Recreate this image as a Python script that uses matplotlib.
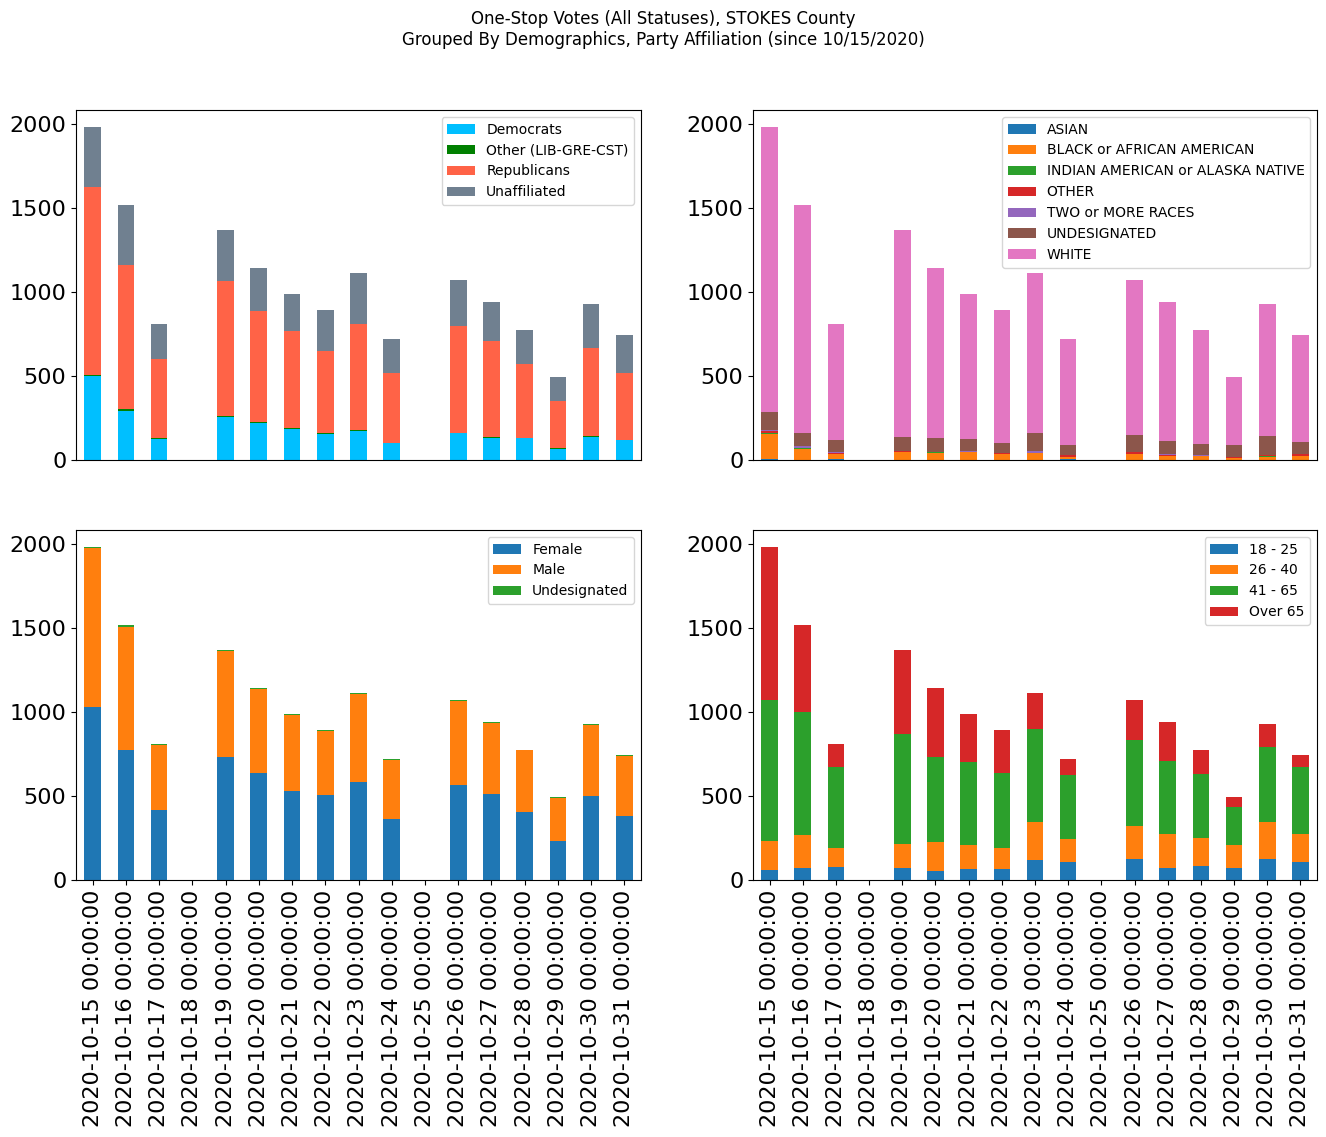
import matplotlib
matplotlib.use("Agg")
import matplotlib.pyplot as plt
import numpy as np

dates = ["2020-10-15", "2020-10-16", "2020-10-17", "2020-10-18", "2020-10-19",
         "2020-10-20", "2020-10-21", "2020-10-22", "2020-10-23", "2020-10-24",
         "2020-10-25", "2020-10-26", "2020-10-27", "2020-10-28", "2020-10-29",
         "2020-10-30", "2020-10-31"]
tick_labels = [d + " 00:00:00" for d in dates]

# Party affiliation
democrats    = [502, 292, 127, 0, 258, 222, 186, 157, 173, 101, 0, 161, 133, 133, 67, 139, 121]
other_party  = [5, 10, 4, 0, 5, 4, 4, 4, 5, 0, 0, 0, 4, 0, 4, 4, 0]
republicans  = [1118, 859, 470, 0, 802, 661, 578, 488, 631, 417, 0, 637, 571, 438, 280, 524, 397]
unaffiliated = [357, 357, 208, 0, 304, 256, 220, 244, 304, 202, 0, 273, 232, 203, 143, 261, 226]

# Race
asian        = [8, 0, 8, 0, 0, 0, 0, 0, 0, 8, 0, 0, 0, 0, 0, 0, 0]
black        = [147, 67, 28, 0, 48, 42, 48, 36, 42, 10, 0, 36, 24, 24, 12, 18, 24]
indian       = [6, 6, 0, 0, 0, 6, 0, 0, 0, 0, 0, 0, 0, 0, 0, 6, 0]
other_race   = [12, 0, 6, 0, 8, 0, 0, 6, 0, 12, 0, 12, 6, 0, 6, 6, 12]
two_more     = [6, 10, 6, 0, 0, 0, 6, 0, 12, 0, 0, 0, 6, 6, 0, 0, 0]
undesig_race = [107, 78, 71, 0, 81, 83, 71, 59, 107, 59, 0, 101, 77, 65, 71, 113, 71]
white        = [1696, 1357, 690, 0, 1232, 1012, 863, 792, 952, 631, 0, 922, 827, 679, 405, 785, 637]

# Gender
female       = [1030, 774, 417, 0, 732, 637, 530, 506, 583, 363, 0, 565, 512, 405, 232, 500, 381]
male         = [946, 732, 387, 0, 631, 500, 452, 381, 524, 351, 0, 500, 422, 369, 258, 422, 357]
undesig_sex  = [6, 12, 5, 0, 6, 6, 6, 6, 6, 6, 0, 6, 6, 0, 4, 6, 6]

# Age
age_18_25    = [60, 71, 77, 0, 71, 54, 65, 65, 119, 107, 0, 125, 71, 83, 71, 125, 107]
age_26_40    = [172, 197, 113, 0, 143, 172, 143, 125, 226, 137, 0, 196, 203, 167, 137, 220, 167]
age_41_65    = [839, 732, 483, 0, 655, 506, 494, 447, 554, 381, 0, 512, 434, 381, 226, 447, 399]
age_over_65  = [911, 518, 136, 0, 500, 411, 286, 256, 214, 95, 0, 238, 232, 143, 60, 136, 71]

party = [("Democrats", democrats, "#00BFFF"),
         ("Other (LIB-GRE-CST)", other_party, "#008000"),
         ("Republicans", republicans, "#FF6347"),
         ("Unaffiliated", unaffiliated, "#708090")]
tab = plt.get_cmap("tab10").colors
race = [("ASIAN", asian), ("BLACK or AFRICAN AMERICAN", black),
        ("INDIAN AMERICAN or ALASKA NATIVE", indian), ("OTHER", other_race),
        ("TWO or MORE RACES", two_more), ("UNDESIGNATED", undesig_race),
        ("WHITE", white)]
gender = [("Female", female), ("Male", male), ("Undesignated", undesig_sex)]
age = [("18 - 25", age_18_25), ("26 - 40", age_26_40), ("41 - 65", age_41_65),
       ("Over 65", age_over_65)]

fig = plt.figure(figsize=(13.26, 11.37), dpi=100)
W, H = 1326, 1137
def pos(x0, x1, y0, y1):
    return [x0 / W, 1 - y1 / H, (x1 - x0) / W, (y1 - y0) / H]

ax_tl = fig.add_axes(pos(76, 641, 110, 460))
ax_tr = fig.add_axes(pos(753, 1317, 110, 460))
ax_bl = fig.add_axes(pos(76, 641, 530, 880))
ax_br = fig.add_axes(pos(753, 1317, 530, 880))

x = np.arange(len(dates))

def stacked(ax, series, colors):
    bottom = np.zeros(len(x))
    for (name, vals), c in zip(series, colors):
        v = np.array(vals, dtype=float)
        ax.bar(x, v, 0.5, bottom=bottom, color=c, label=name)
        bottom += v
    ax.set_xlim(-0.5, len(x) - 0.5)
    ax.set_ylim(0, bottom.max() * 1.05)
    ax.set_yticks([0, 500, 1000, 1500, 2000])
    ax.tick_params(axis="y", labelsize=16)
    ax.legend(loc="upper right", fontsize=10)

stacked(ax_tl, [(n, v) for n, v, c in party], [c for n, v, c in party])
stacked(ax_tr, race, tab[:7])
stacked(ax_bl, gender, tab[:3])
stacked(ax_br, age, tab[:4])

for ax in (ax_tl, ax_tr):
    ax.set_xticks(x)
    ax.tick_params(axis="x", bottom=False, labelbottom=False)
for ax in (ax_bl, ax_br):
    ax.set_xticks(x)
    ax.set_xticklabels(tick_labels, rotation=90, fontsize=16)

fig.suptitle("One-Stop Votes (All Statuses), STOKES County\n"
             "Grouped By Demographics, Party Affiliation (since 10/15/2020)",
             fontsize=12, y=0.991)

fig.savefig("out.png", dpi=100)
